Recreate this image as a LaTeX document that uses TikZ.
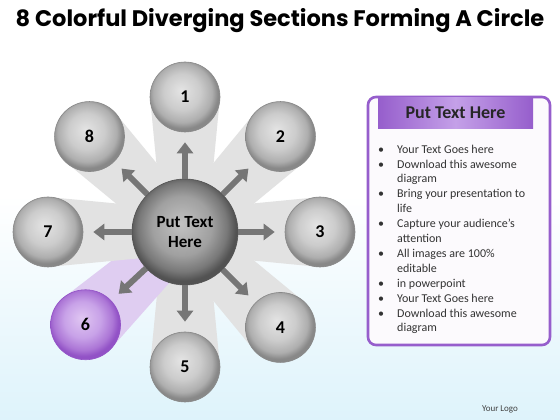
\documentclass[tikz,border=0pt]{standalone}
\usepackage{fontspec}
\setmainfont{Carlito}
\newfontfamily\titlefont{Poppins}
\usepackage{tikz}
\usetikzlibrary{calc,positioning,arrows.meta,backgrounds}
\definecolor{bgblue}{RGB}{222,243,251}
\definecolor{beamgrey}{RGB}{226,226,226}
\definecolor{beamlilac}{RGB}{223,205,241}
\definecolor{myviolet}{RGB}{150,94,204}
\definecolor{violetlight}{RGB}{196,160,232}
\definecolor{arrowgrey}{RGB}{118,118,118}
\definecolor{ballhi}{RGB}{228,228,228}
\definecolor{ballmid}{RGB}{204,204,204}
\definecolor{ballside}{RGB}{174,174,174}
\definecolor{ballrim}{RGB}{136,136,136}
\definecolor{hubhi}{RGB}{194,194,194}
\definecolor{hubmid}{RGB}{160,160,160}
\definecolor{hubside}{RGB}{120,120,120}
\definecolor{hubrim}{RGB}{82,82,82}
\definecolor{lilachi}{RGB}{224,198,242}
\definecolor{lilacmid}{RGB}{200,162,232}
\definecolor{lilacside}{RGB}{172,118,214}
\definecolor{lilacrim}{RGB}{146,82,198}
\pgfdeclareradialshading{greyball}{\pgfpoint{-3bp}{5bp}}{color(0bp)=(ballhi); color(13bp)=(ballmid); color(21bp)=(ballside); color(25bp)=(ballrim); color(50bp)=(ballrim)}
\pgfdeclareradialshading{hubball}{\pgfpoint{-2bp}{4bp}}{color(0bp)=(hubhi); color(14bp)=(hubmid); color(21bp)=(hubside); color(25bp)=(hubrim); color(50bp)=(hubrim)}
\pgfdeclareradialshading{lilacball}{\pgfpoint{-3bp}{5bp}}{color(0bp)=(lilachi); color(13bp)=(lilacmid); color(21bp)=(lilacside); color(25bp)=(lilacrim); color(50bp)=(lilacrim)}
% light band from the hub out to one ball
\newcommand{\beam}[3]{\fill[#1] ($(#2)!22pt!90:(#3)$) -- ($(#3)!35pt!-90:(#2)$) -- ($(#3)!35pt!90:(#2)$) -- ($(#2)!22pt!-90:(#3)$) -- cycle;}

\begin{document}
\begin{tikzpicture}[x=1pt,y=1pt,
    ball/.style={circle, minimum size=70, inner sep=0pt, shading=greyball, draw=ballrim, line width=0.6pt, font=\fontsize{18}{20}\selectfont\bfseries},
    spoke/.style={draw=arrowgrey, line width=6pt, -{Triangle[width=16pt,length=11pt]}, shorten >=10pt}]
    \useasboundingbox (0,0) rectangle (560,420);
    \begin{pgfonlayer}{background}
      \fill[white] (0,0) rectangle (560,420);
      \shade[top color=white, bottom color=bgblue] (0,0) rectangle (560,225);
    \end{pgfonlayer}

    \node (title) [anchor=base] at (280,393) {\titlefont\bfseries\fontsize{22.5}{25}\selectfont 8 Colorful Diverging Sections Forming A Circle};

    \node [circle, minimum size=106, inner sep=0pt, shading=hubball, draw=hubrim, line width=0.6pt, align=center, font=\fontsize{17}{20}\selectfont\bfseries] (hub) at (185,188) {Put Text\\Here};
    \node [ball] (b1) at ($(hub)+(90:135)$) {1};
    \node [ball] (b2) at ($(hub)+(45:135)$) {2};
    \node [ball] (b3) at ($(hub)+(0:135)$) {3};
    \node [ball] (b4) at ($(hub)+(-45:135)$) {4};
    \node [ball] (b5) at ($(hub)+(-90:135)$) {5};
    \node [ball, shading=lilacball, draw=lilacrim] (b6) at ($(hub)+(-137:136)$) {6};
    \node [ball] (b7) at ($(hub)+(180:137)$) {7};
    \node [ball] (b8) at ($(hub)+(135:135)$) {8};

    \begin{pgfonlayer}{background}
      \beam{beamgrey}{hub}{b1}
      \beam{beamgrey}{hub}{b2}
      \beam{beamgrey}{hub}{b3}
      \beam{beamgrey}{hub}{b4}
      \beam{beamgrey}{hub}{b5}
      \beam{beamlilac}{hub}{b6}
      \beam{beamgrey}{hub}{b7}
      \beam{beamgrey}{hub}{b8}
    \end{pgfonlayer}

    \draw [spoke] (hub) -- (b1);
    \draw [spoke] (hub) -- (b2);
    \draw [spoke] (hub) -- (b3);
    \draw [spoke] (hub) -- (b4);
    \draw [spoke] (hub) -- (b5);
    \draw [spoke] (hub) -- (b6);
    \draw [spoke] (hub) -- (b7);
    \draw [spoke] (hub) -- (b8);

    % text panel on the right
    \node [draw=myviolet, line width=2.6pt, rounded corners=8pt, fill=white!97!myviolet, minimum width=182, minimum height=248, inner sep=0pt] (panel) at (459,199) {};
    \node [below=1.5pt of panel.north, xshift=-3.5pt, minimum width=155, minimum height=31, inner sep=0pt,
      left color=myviolet, right color=myviolet, middle color=violetlight,
      font=\fontsize{18}{20}\selectfont\bfseries, text=black!85] (head) {Put Text Here};
    \node [anchor=north west, inner sep=0pt, align=left, text=black!80] (items) at (378,277.5)
    {\fontsize{12}{14.9}\selectfont
      \begin{tabular}{@{}l@{}l@{}}
        \makebox[19pt][l]{\textbullet} & Your Text Goes here\\
        \makebox[19pt][l]{\textbullet} & Download this awesome\\
        & diagram\\
        \makebox[19pt][l]{\textbullet} & Bring your presentation to\\
        & life\\
        \makebox[19pt][l]{\textbullet} & Capture your audience’s\\
        & attention\\
        \makebox[19pt][l]{\textbullet} & All images are 100\%\\
        & editable\\
        \makebox[19pt][l]{\textbullet} & in powerpoint\\
        \makebox[19pt][l]{\textbullet} & Your Text Goes here\\
        \makebox[19pt][l]{\textbullet} & Download this awesome\\
        & diagram
      \end{tabular}};

    \node (logo) [anchor=base, text=black!75] at (500,8) {\fontsize{9}{11}\selectfont Your Logo};
  \end{tikzpicture}
\end{document}
